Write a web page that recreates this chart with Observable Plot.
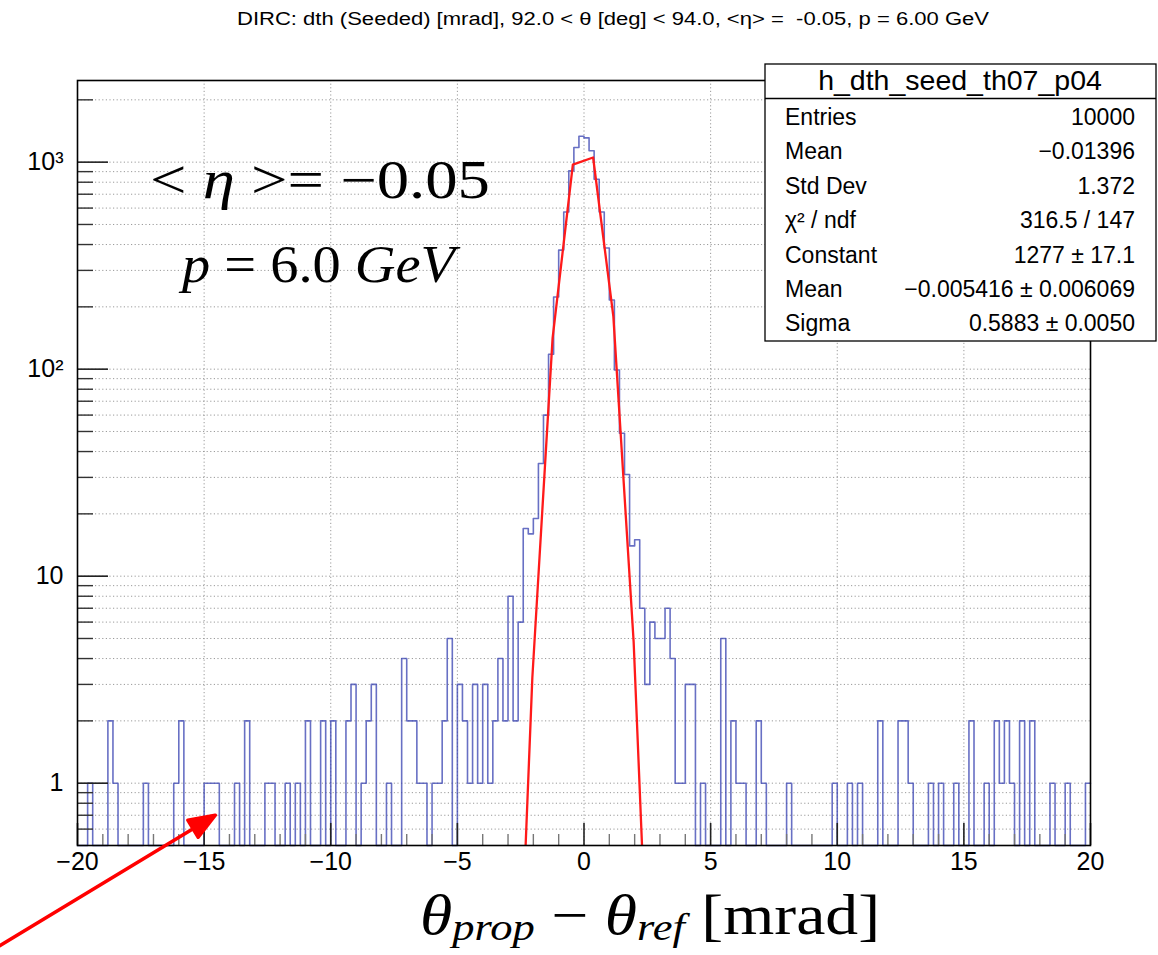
<!DOCTYPE html>
<html><head><meta charset="utf-8">
<script src="https://cdn.jsdelivr.net/npm/d3@7"></script>
<script src="https://cdn.jsdelivr.net/npm/@observablehq/plot@0.6"></script>
<style>
html,body{margin:0;padding:0;background:#fff;}
#chart{width:1158px;height:955px;}
</style></head><body><div id="chart"></div>
<script>
// ---- histogram: 200 bins of 0.2 mrad from -20 to 20 ----
const binLow = -20, binWidth = 0.2;
const counts = [
 0,0,1,0,0,0,2,1,0,0,
 0,0,0,1,0,0,0,0,0,1,
 2,0,0,0,0,1,1,1,0,0,
 0,1,0,2,0,0,0,1,1,0,
 0,1,0,1,0,2,0,0,2,0,
 2,0,0,2,3,0,1,2,3,0,
 0,1,0,0,4,2,2,1,1,0,
 1,1,2,5,0,3,2,1,3,1,
 3,1,2,4,2,8,2,6,17,16,
 19,35,60,118,223,376,574,908,1178,1334,
 1310,1136,827,574,385,216,99,49,31,14,
 15,7,3,6,5,5,7,4,1,1,
 3,3,0,1,0,0,0,5,0,2,
 1,1,0,0,2,1,0,0,0,0,
 1,0,0,0,0,0,0,0,0,1,
 0,0,1,0,1,0,0,0,2,0,
 0,0,2,2,1,0,0,0,1,0,
 1,0,0,1,0,0,2,0,0,1,
 0,2,1,2,1,0,2,0,2,0,
 0,0,1,0,0,1,0,0,0,1
];
// ---- gaussian fit curve, polyline nodes as drawn ----
const fitX = [-2.84, -2.04, -1.24, -0.44, 0.36, 1.16, 1.96, 2.76];
const fitY = [0.0116, 3.23, 141.2, 972.0, 1053.0, 179.5, 4.82, 0.0203];
// ---- axes ----
const yMin = 0.5, yMax = 2480;
const xMajor = [-20, -15, -10, -5, 0, 5, 10, 15, 20];
const xMajorLabels = ["\u221220", "\u221215", "\u221210", "\u22125", "0", "5", "10", "15", "20"];
const xMinor = [-19,-18,-17,-16,-14,-13,-12,-11,-9,-8,-7,-6,-4,-3,-2,-1,1,2,3,4,6,7,8,9,11,12,13,14,16,17,18,19];
const xGrid = [-15, -10, -5, 0, 5, 10, 15];
const yMajor = [1, 10, 100, 1000];
const yMajorLabels = ["1", "10", "10\u00b2", "10\u00b3"];
const yMinor = [0.6,0.7,0.8,0.9,2,3,4,5,6,7,8,9,20,30,40,50,60,70,80,90,200,300,400,500,600,700,800,900,2000];
// ---- texts ----
const titleText = "DIRC: dth (Seeded) [mrad], 92.0 < \u03b8 [deg] < 94.0, <\u03b7> =  -0.05, p = 6.00 GeV";
const statsTitle = "h_dth_seed_th07_p04";
const statsLabels = ["Entries", "Mean", "Std Dev", "\u03c7\u00b2 / ndf", "Constant", "Mean", "Sigma"];
const statsValues = ["10000", "\u22120.01396", "1.372", "316.5 / 147", "1277 \u00b1 17.1", "\u22120.005416 \u00b1 0.006069", "0.5883 \u00b1 0.0050"];
const arrowTip = [{x: -14.56, y: 0.70}];

const W = 1158, H = 955, mL = 77, mR = 68, mT = 80, mB = 110;
const frameW = W - mL - mR, frameH = H - mT - mB;

const steps = counts.map((c, i) => ({x: binLow + i * binWidth, c}))
  .concat([{x: binLow + counts.length * binWidth, c: counts[counts.length - 1]}]);
const fit = fitX.map((x, i) => ({x, y: fitY[i]}));

const arrowShape = {
  draw(context, l) {
    const hl = 26, hw = 10;
    context.moveTo(0, 0);
    context.lineTo(0, -l + hl * 0.7);
    context.moveTo(0, -l);
    context.lineTo(-hw, -l + hl);
    context.lineTo(hw, -l + hl);
    context.closePath();
  }
};

const dotted = {stroke: "#9a9a9a", strokeWidth: 1, strokeDasharray: "1.2,2.4"};

const plot = Plot.plot({
  width: W, height: H,
  marginLeft: mL, marginRight: mR, marginTop: mT, marginBottom: mB,
  style: {fontFamily: "'Liberation Sans', Arial, Helvetica, sans-serif", background: "white", overflow: "visible", color: "black"},
  x: {domain: [-20, 20], axis: null},
  y: {type: "log", domain: [yMin, yMax], axis: null},
  marks: [
    Plot.ruleY(yMajor.concat(yMinor), {y: d => d, ...dotted}),
    Plot.ruleX(xGrid, {x: d => d, ...dotted}),
    Plot.line(steps, {x: "x", y: d => Math.max(d.c, yMin), curve: "step-after",
      stroke: "#3540b0", strokeOpacity: 0.75, strokeWidth: 1.6}),
    Plot.line(fit, {x: "x", y: "y", stroke: "#ff1a1a", strokeWidth: 2.3, clip: true}),
    Plot.tickY(yMinor, {y: d => d, insetRight: frameW - 16, stroke: "#333", strokeWidth: 1.4}),
    Plot.tickY(yMajor, {y: d => d, insetRight: frameW - 31, stroke: "#222", strokeWidth: 1.6}),
    Plot.tickX(xMinor, {x: d => d, insetTop: frameH - 11, stroke: "#777", strokeWidth: 1.4}),
    Plot.tickX(xMajor, {x: d => d, insetTop: frameH - 22, stroke: "#222", strokeWidth: 1.6}),
    Plot.frame({stroke: "black", strokeWidth: 1.6}),
    Plot.text(yMajor, {y: d => d, text: (d, i) => yMajorLabels[i], frameAnchor: "left",
      textAnchor: "end", dx: -14, fontSize: 25, fill: "black"}),
    Plot.text(xMajor, {x: d => d, text: (d, i) => xMajorLabels[i], frameAnchor: "bottom",
      dy: 24, fontSize: 25, fill: "black"}),
    Plot.vector(arrowTip, {x: "x", y: "y", anchor: "end", length: 252, rotate: 58.8,
      shape: arrowShape, stroke: "#ff0000", fill: "#ff0000", strokeWidth: 3.5, clip: false})
  ]
});

document.getElementById("chart").appendChild(plot);
const svg = d3.select(plot);

// title
svg.append("text").attr("x", 613).attr("y", 25).attr("text-anchor", "middle")
  .attr("font-size", 18).attr("textLength", 752).attr("lengthAdjust", "spacingAndGlyphs")
  .attr("fill", "black").text(titleText);

// stats box
const box = svg.append("g").attr("font-family", "'Liberation Sans', Arial, sans-serif").attr("fill", "black");
box.append("rect").attr("x", 765).attr("y", 64).attr("width", 391).attr("height", 277)
  .attr("fill", "white").attr("stroke", "black").attr("stroke-width", 1.3);
box.append("line").attr("x1", 765).attr("x2", 1156).attr("y1", 98.5).attr("y2", 98.5)
  .attr("stroke", "black").attr("stroke-width", 1.3);
box.append("text").attr("x", 960).attr("y", 90).attr("text-anchor", "middle")
  .attr("font-size", 28.5).text(statsTitle);
statsLabels.forEach((lab, i) => {
  const y = 125 + i * 34.4;
  box.append("text").attr("x", 785).attr("y", y).attr("text-anchor", "start").attr("font-size", 23).text(lab);
  box.append("text").attr("x", 1135).attr("y", y).attr("text-anchor", "end").attr("font-size", 23).text(statsValues[i]);
});

// math annotations
const serif = "'Liberation Serif', 'DejaVu Serif', serif";
const t1 = svg.append("text").attr("x", 150).attr("y", 198).attr("text-anchor", "start")
  .attr("font-family", serif).attr("font-size", 54).attr("fill", "black")
  .attr("textLength", 340).attr("lengthAdjust", "spacingAndGlyphs");
t1.append("tspan").text("< ");
t1.append("tspan").attr("font-style", "italic").text("\u03b7");
t1.append("tspan").text(" >= \u22120.05");

const t2 = svg.append("text").attr("x", 182).attr("y", 282).attr("text-anchor", "start")
  .attr("font-family", serif).attr("font-size", 53).attr("fill", "black")
  .attr("textLength", 273).attr("lengthAdjust", "spacingAndGlyphs");
t2.append("tspan").attr("font-style", "italic").text("p");
t2.append("tspan").text(" = 6.0 ");
t2.append("tspan").attr("font-style", "italic").text("GeV");

const t3 = svg.append("text").attr("x", 420).attr("y", 934).attr("text-anchor", "start")
  .attr("font-family", serif).attr("font-size", 56).attr("fill", "black")
  .attr("textLength", 460).attr("lengthAdjust", "spacingAndGlyphs");
t3.append("tspan").attr("font-style", "italic").text("\u03b8");
t3.append("tspan").attr("font-style", "italic").attr("font-size", 38).attr("dy", 6).text("prop");
t3.append("tspan").attr("dy", -6).text(" \u2212 ");
t3.append("tspan").attr("font-style", "italic").text("\u03b8");
t3.append("tspan").attr("font-style", "italic").attr("font-size", 38).attr("dy", 6).text("ref");
t3.append("tspan").attr("dy", -6).text(" [mrad]");
</script>
</body></html>
